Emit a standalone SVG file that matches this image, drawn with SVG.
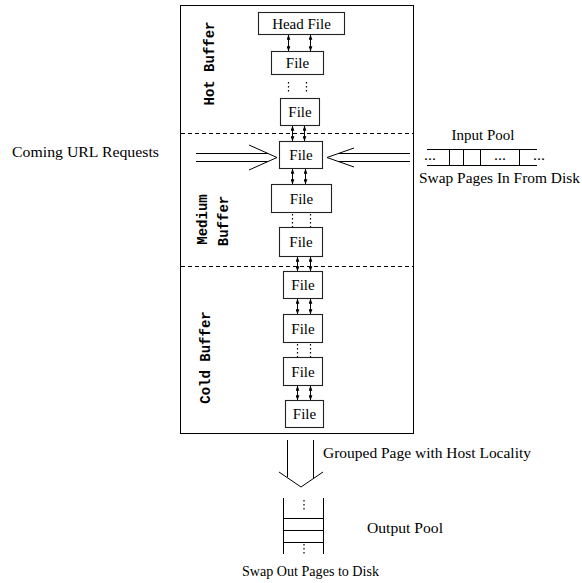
<svg xmlns="http://www.w3.org/2000/svg" width="582" height="583" viewBox="0 0 582 583">
<style>
.ln{stroke:#000;stroke-width:1;fill:none}
.bx{stroke:#222;stroke-width:1.1;fill:#fff}
.dash{stroke:#000;stroke-width:1;stroke-dasharray:4,3;fill:none}
.dots{stroke:#000;stroke-width:1.2;stroke-dasharray:1.4,2.6;fill:none}
.t{font-family:'Liberation Serif','Times New Roman','DejaVu Serif',serif;font-size:15px;fill:#000}
.m{font-family:'Liberation Mono','Courier New',monospace;font-size:14px;font-weight:bold;fill:#000}
.c{text-anchor:middle}
.arr{stroke:#000;stroke-width:1;fill:none;marker-start:url(#ah);marker-end:url(#ah)}
</style>
<defs>
<marker id="ah" viewBox="0 0 8 6" refX="7.5" refY="3" markerWidth="5" markerHeight="4" orient="auto-start-reverse" markerUnits="userSpaceOnUse">
<path d="M0,0 L8,3 L0,6 Z" fill="#000"/>
</marker>
</defs>
<rect x="0" y="0" width="582" height="583" fill="#fff"/>

<g id="buffer-frame">
<rect class="ln" x="180.5" y="5.5" width="233" height="428"/>
<line class="dash" x1="181" y1="133.5" x2="413" y2="133.5"/>
<line class="dash" x1="181" y1="266.5" x2="413" y2="266.5"/>
<g font-family="Liberation Mono, Courier New, monospace">
<text class="m c" transform="translate(214,63.5) rotate(-90)">Hot Buffer</text>
<text class="m c" transform="translate(207,219.5) rotate(-90)">Medium</text>
<text class="m c" transform="translate(228,221) rotate(-90)">Buffer</text>
<text class="m c" transform="translate(210,357.5) rotate(-90)">Cold Buffer</text>
</g>
</g>

<g font-family="Liberation Serif, Times New Roman, serif">
<g id="head-file"><rect class="bx" x="258.5" y="12.5" width="86" height="22"/><text class="t c" x="301.5" y="28.5">Head File</text></g>
<g id="hot-file-1"><rect class="bx" x="271.5" y="51.5" width="52" height="23"/><text class="t c" x="297.5" y="67.5">File</text></g>
<g id="hot-file-2"><rect class="bx" x="280.5" y="98.5" width="39" height="27"/><text class="t c" x="300" y="117">File</text></g>
<g id="medium-file-1"><rect class="bx" x="279.5" y="141.5" width="43" height="27"/><text class="t c" x="301" y="160">File</text></g>
<g id="medium-file-2"><rect class="bx" x="271.5" y="184.5" width="60" height="28"/><text class="t c" x="301.5" y="203.5">File</text></g>
<g id="medium-file-3"><rect class="bx" x="279.5" y="227.5" width="43" height="29"/><text class="t c" x="301" y="247">File</text></g>
<g id="cold-file-1"><rect class="bx" x="283.5" y="271.5" width="39" height="27"/><text class="t c" x="303" y="290">File</text></g>
<g id="cold-file-2"><rect class="bx" x="283.5" y="314.5" width="39" height="28"/><text class="t c" x="303" y="333.5">File</text></g>
<g id="cold-file-3"><rect class="bx" x="283.5" y="357.5" width="39" height="28"/><text class="t c" x="303" y="376.5">File</text></g>
<g id="cold-file-4"><rect class="bx" x="285.5" y="400.5" width="38" height="27"/><text class="t c" x="304.5" y="419">File</text></g>

<g id="input-pool">
<text class="t c" x="483" y="140">Input Pool</text>
<line class="ln" x1="427" y1="149.5" x2="537" y2="149.5"/>
<line class="ln" x1="427" y1="165.5" x2="537" y2="165.5"/>
<line class="ln" x1="449.5" y1="149.5" x2="449.5" y2="165.5"/>
<line class="ln" x1="463.5" y1="149.5" x2="463.5" y2="165.5"/>
<line class="ln" x1="480.5" y1="149.5" x2="480.5" y2="165.5"/>
<line class="ln" x1="519.5" y1="149.5" x2="519.5" y2="165.5"/>
<text class="t" x="424" y="160" textLength="12" lengthAdjust="spacingAndGlyphs">...</text>
<text class="t" x="494" y="160" textLength="12" lengthAdjust="spacingAndGlyphs">...</text>
<text class="t" x="533" y="160" textLength="12" lengthAdjust="spacingAndGlyphs">...</text>
<text class="t" x="419" y="183" textLength="161" lengthAdjust="spacingAndGlyphs">Swap Pages In From Disk</text>
</g>

<g id="output-pool">
<line class="ln" x1="283.5" y1="498" x2="283.5" y2="554"/>
<line class="ln" x1="323.5" y1="498" x2="323.5" y2="554"/>
<line class="ln" x1="283.5" y1="518.5" x2="323.5" y2="518.5"/>
<line class="ln" x1="283.5" y1="530.5" x2="323.5" y2="530.5"/>
<line class="ln" x1="283.5" y1="542.5" x2="323.5" y2="542.5"/>
<line class="dots" x1="304" y1="500" x2="304" y2="512"/>
<line class="dots" x1="304" y1="544" x2="304" y2="555"/>
<text class="t" x="367" y="533" textLength="76" lengthAdjust="spacingAndGlyphs">Output Pool</text>
<text class="t" x="242" y="576" textLength="137" lengthAdjust="spacingAndGlyphs">Swap Out Pages to Disk</text>
</g>

<g id="labels">
<text class="t" x="12" y="157" textLength="147" lengthAdjust="spacingAndGlyphs">Coming URL Requests</text>
<text class="t" x="323" y="458" textLength="208" lengthAdjust="spacingAndGlyphs">Grouped Page with Host Locality</text>
</g>
</g>

<g id="connectors">
<line class="arr" x1="288.5" y1="35" x2="288.5" y2="51"/>
<line class="arr" x1="310.5" y1="35" x2="310.5" y2="51"/>
<line class="dots" x1="288.5" y1="82" x2="288.5" y2="94"/>
<line class="dots" x1="306.5" y1="82" x2="306.5" y2="94"/>
<line class="arr" x1="292.5" y1="126" x2="292.5" y2="141"/>
<line class="arr" x1="304.5" y1="126" x2="304.5" y2="141"/>
<line class="arr" x1="292.5" y1="169" x2="292.5" y2="184"/>
<line class="arr" x1="305.5" y1="169" x2="305.5" y2="184"/>
<line class="dots" x1="292.5" y1="214" x2="292.5" y2="227"/>
<line class="dots" x1="310.5" y1="214" x2="310.5" y2="227"/>
<line class="arr" x1="297.5" y1="257" x2="297.5" y2="271"/>
<line class="arr" x1="310.5" y1="257" x2="310.5" y2="271"/>
<line class="arr" x1="297.5" y1="299" x2="297.5" y2="314"/>
<line class="arr" x1="310.5" y1="299" x2="310.5" y2="314"/>
<line class="dots" x1="297.5" y1="344" x2="297.5" y2="357"/>
<line class="dots" x1="310.5" y1="344" x2="310.5" y2="357"/>
<line class="arr" x1="297.5" y1="386" x2="297.5" y2="400"/>
<line class="arr" x1="310.5" y1="386" x2="310.5" y2="400"/>
<line class="ln" x1="196" y1="153.5" x2="268" y2="153.5"/>
<line class="ln" x1="196" y1="161.5" x2="268" y2="161.5"/>
<polyline class="ln" points="249,145 277,157.5 249,170"/>
<line class="ln" x1="338" y1="153.5" x2="410" y2="153.5"/>
<line class="ln" x1="338" y1="161.5" x2="410" y2="161.5"/>
<polyline class="ln" points="354,148 327,157.5 354,167"/>
<line class="ln" x1="287.5" y1="440" x2="287.5" y2="477"/>
<line class="ln" x1="313.5" y1="440" x2="313.5" y2="478"/>
<polyline class="ln" points="279,472 301,487 323,472"/>
</g>
</svg>
